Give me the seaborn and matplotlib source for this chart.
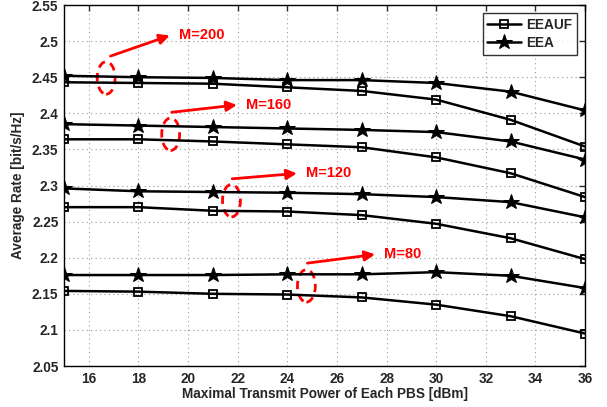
import numpy as np
import pandas as pd
import seaborn as sns
import matplotlib.pyplot as plt
from matplotlib.patches import Ellipse

potencia = [15, 18, 21, 24, 27, 30, 33, 36]

eeauf_200 = [2.443, 2.442, 2.441, 2.436, 2.431, 2.419, 2.391, 2.354]
eea_200 = [2.452, 2.450, 2.449, 2.446, 2.446, 2.442, 2.430, 2.404]
eeauf_160 = [2.364, 2.364, 2.361, 2.357, 2.353, 2.339, 2.317, 2.284]
eea_160 = [2.385, 2.383, 2.381, 2.379, 2.377, 2.374, 2.361, 2.336]
eeauf_120 = [2.270, 2.270, 2.265, 2.264, 2.259, 2.247, 2.227, 2.198]
eea_120 = [2.296, 2.292, 2.291, 2.290, 2.288, 2.284, 2.277, 2.256]
eeauf_80 = [2.154, 2.153, 2.150, 2.149, 2.145, 2.135, 2.119, 2.095]
eea_80 = [2.176, 2.176, 2.176, 2.177, 2.177, 2.180, 2.175, 2.158]

rotulos_m = ['M=200', 'M=160', 'M=120', 'M=80']
# anotacoes: centro da elipse, inicio e fim da seta
elipse_centro = [(16.7, 2.449), (19.3, 2.371), (21.75, 2.279), (24.77, 2.161)]
seta_inicio = [(16.77, 2.478), (19.23, 2.401), (21.67, 2.309), (24.70, 2.192)]
seta_fim = [(19.37, 2.509), (22.08, 2.412), (24.5, 2.317), (27.65, 2.205)]

sns.set_style('white')
plt.rcParams['font.family'] = ['Liberation Sans', 'DejaVu Sans']
plt.rcParams['font.weight'] = 'bold'

fig = plt.figure(figsize=(6.07, 4.07), dpi=100)
ax = fig.add_axes([0.1054, 0.1007, 0.8584, 0.887])

series = [
    (eeauf_200, eea_200), (eeauf_160, eea_160),
    (eeauf_120, eea_120), (eeauf_80, eea_80),
]
for i, (sq, st) in enumerate(series):
    sns.lineplot(x=potencia, y=sq, ax=ax, color='k', lw=1.8, marker='s',
                 markersize=5.5, markerfacecolor='none', markeredgecolor='k',
                 markeredgewidth=1.3, label='EEAUF' if i == 0 else None)
    sns.lineplot(x=potencia, y=st, ax=ax, color='k', lw=1.8, marker='*',
                 markersize=11.5, markerfacecolor='k', markeredgecolor='k',
                 label='EEA' if i == 0 else None)

for rot, c, a, b in zip(rotulos_m, elipse_centro, seta_inicio, seta_fim):
    ax.add_patch(Ellipse(c, 0.72, 0.045, fill=False, edgecolor='red',
                         lw=2, linestyle=(0, (3, 2))))
    ax.annotate('', xy=b, xytext=a,
                arrowprops=dict(arrowstyle='-|>', color='red', lw=2,
                                mutation_scale=15))
    ax.text(b[0] + 0.25, b[1], rot, color='red', fontsize=10.5,
            fontweight='bold', va='center', ha='left')

ax.set_xlim(15, 36)
ax.set_ylim(2.05, 2.55)
ax.set_xticks(np.arange(16, 37, 2))
yt = np.round(np.arange(2.05, 2.551, 0.05), 2)
ax.set_yticks(yt)
ax.set_yticklabels(['%g' % v for v in yt])
ax.tick_params(direction='in', top=True, right=True, labelsize=9.8,
               length=4, width=1, pad=4)
for lab in ax.get_xticklabels() + ax.get_yticklabels():
    lab.set_fontweight('bold')
ax.grid(True, color='#999999', linestyle=(0, (1, 3)), lw=0.8)
for s in ax.spines.values():
    s.set_color('k')
    s.set_linewidth(1)

ax.set_xlabel('Maximal Transmit Power of Each PBS [dBm]', fontsize=9.8,
              fontweight='bold', labelpad=1)
ax.set_ylabel('Average Rate [bit/s/Hz]', fontsize=9.8, fontweight='bold',
              labelpad=5)

leg = ax.legend(loc='upper right', fontsize=9.8, frameon=True, fancybox=False,
                edgecolor='k', borderaxespad=0.6, handlelength=2.5,
                handletextpad=0.35, borderpad=0.35, labelspacing=0.3)
leg.get_frame().set_linewidth(1)
for t in leg.get_texts():
    t.set_fontweight('bold')

fig.savefig('out.png', dpi=100)
